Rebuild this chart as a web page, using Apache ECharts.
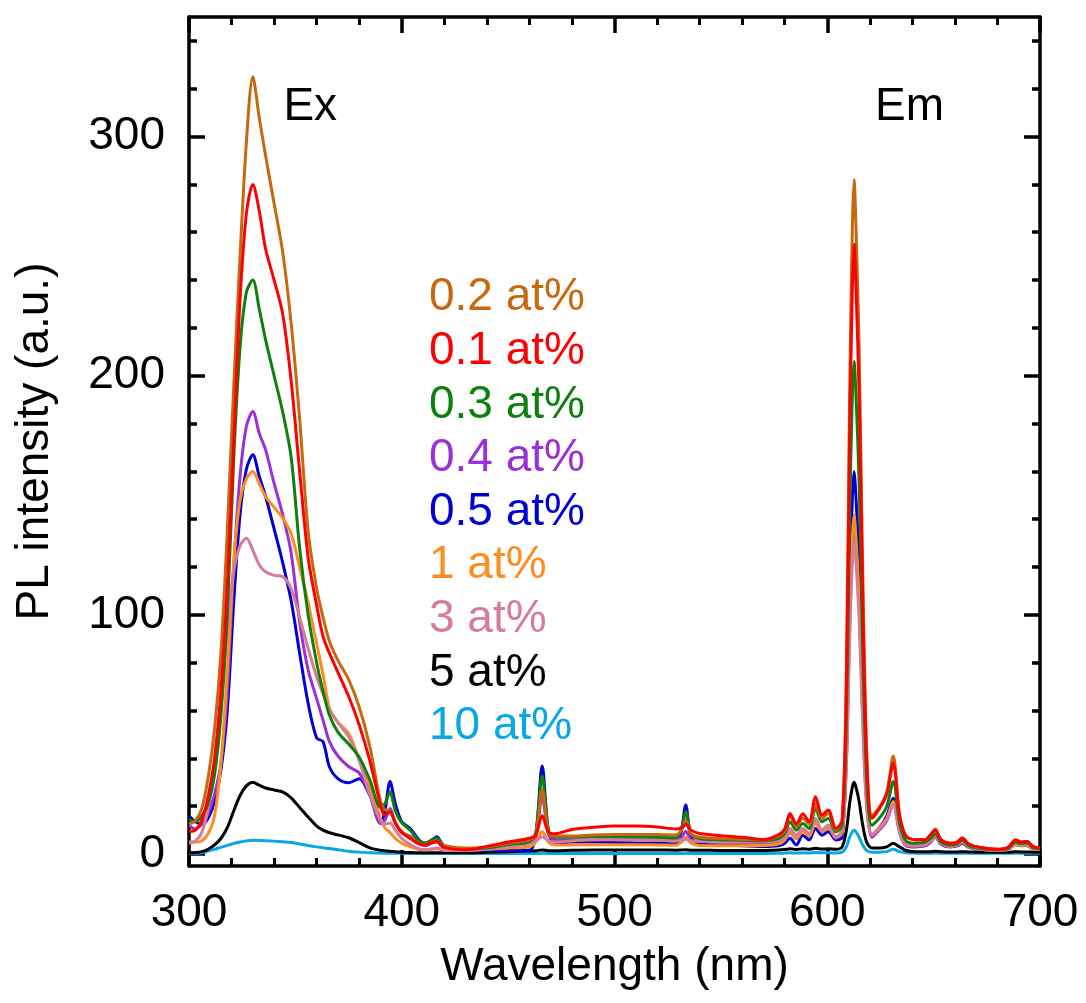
<!DOCTYPE html>
<html>
<head>
<meta charset="utf-8">
<script src="https://cdn.jsdelivr.net/npm/echarts@6/dist/echarts.min.js"></script>
<style>
  html, body { margin: 0; padding: 0; background: #fff; }
  #chart { width: 1086px; height: 1003px; }
</style>
</head>
<body>
<div id="chart"></div>
<script>
// Shared wavelength grid (nm); denser around the sharp Eu3+ lines.
const wavelength = [
  300, 303, 306, 309, 312, 315, 318, 321, 324, 327,
  330, 333, 336, 340, 344, 348, 352, 356, 360, 363,
  366, 370, 375, 380, 385, 390, 392, 394.5, 397, 400,
  404, 408, 411, 414, 416.5, 420, 430, 440, 450, 460,
  463, 466, 469, 472, 480, 490, 500, 510, 520, 529,
  531.5, 533.5, 536, 540, 550, 560, 570, 577, 580, 582.5,
  585.5, 588.5, 591.5, 594.5, 597.5, 600.5, 604, 607, 609, 610.5,
  611.8, 612.6, 613.5, 615, 616.5, 618.5, 621, 624.5, 628, 631,
  634, 637, 641, 646, 648.5, 650.8, 653.5, 658, 661, 663.5,
  666.5, 672, 680, 685, 688.5, 691, 693.8, 697, 700
];

// PL intensity (a.u.) for each doping level, one value per wavelength.
const pl_0_2 = [
  12.5, 14, 19, 32, 52, 84, 135, 195, 250, 298,
  325, 308, 292, 272, 252, 222, 182, 135, 111, 99,
  89, 81, 73, 61.5, 45, 22, 18.5, 18, 13, 9.5,
  7, 4.5, 4, 5, 5.5, 3.5, 2.5, 3, 4.5, 6,
  8, 27, 9, 7.5, 7.5, 8, 8.2, 8.2, 8.2, 8,
  10, 14, 8.5, 7, 6.5, 6.2, 5.8, 7.5, 9.5, 16,
  11.5, 15, 12.5, 21, 15, 17, 10, 14, 78, 192,
  262, 282, 262, 212, 128, 45, 16, 19.5, 26, 41,
  16.5, 7.5, 6, 6, 8, 10.5, 6, 4.5, 5, 6.8,
  4.2, 2.7, 2, 2.8, 6, 5, 5.3, 3, 2.7
];
const pl_0_1 = [
  9.5, 10, 14, 24, 40, 68, 112, 172, 232, 268,
  280, 269, 253, 240, 226, 198, 160, 124, 104, 91,
  84, 76, 66, 54, 39, 20.5, 16.3, 17.7, 13, 9,
  6.5, 4.2, 3.8, 4.8, 5.2, 2.8, 1.8, 3.2, 5, 6.6,
  8, 16, 9, 8.5, 10.3, 11.2, 11.7, 11.7, 11.3, 10.5,
  11, 12.5, 10, 8.6, 7.7, 7, 6, 8, 10.5, 17,
  12.6, 16.8, 13.5, 24, 16.3, 18.4, 10.7, 14, 70, 173,
  237, 255, 237, 191, 115, 40, 15, 19, 25, 38,
  16, 7.5, 6, 6, 8, 10, 6, 4.5, 5, 6.6,
  4.2, 2.7, 2, 2.8, 5.9, 5, 5.2, 3, 2.7
];
const pl_0_3 = [
  14.5, 13.5, 16, 21, 33, 58, 100, 165, 212, 235,
  240, 228, 215, 200, 185, 166, 128, 100, 80, 68,
  58, 51, 46, 40.5, 31, 19.5, 21, 26, 18, 13,
  10, 5.5, 4.5, 5.8, 6.6, 3.5, 2.2, 2.5, 4, 5.2,
  9, 32.6, 10, 7, 7, 7.3, 7.3, 7.2, 7, 6.8,
  10.5, 17.7, 8.5, 6.5, 6, 5.8, 5.5, 6.5, 8.5, 13.5,
  10, 12.8, 10.7, 19.1, 13.5, 14.9, 9.3, 12, 57, 140,
  192, 206, 192, 155, 93, 32, 12, 15, 20, 30.3,
  13, 5.5, 4.5, 5, 6.5, 8.5, 5, 3.8, 4.3, 5.8,
  3.5, 2.3, 1.8, 2.4, 5, 4.4, 4.6, 2.6, 2.3
];
const pl_0_4 = [
  12, 10.5, 12.5, 17, 25, 38, 68, 120, 158, 179,
  185, 176, 169, 155, 142, 126, 97, 77, 65, 56,
  47, 41, 36.6, 33.9, 25, 13, 14, 19, 13, 9,
  7.5, 4.5, 3.5, 4.5, 5, 2.5, 2, 2.2, 3.5, 4.5,
  7.5, 24, 8, 6, 5.8, 5.9, 6, 6, 5.9, 5.7,
  7, 9.5, 6, 5.4, 5, 4.8, 4.5, 4.8, 6, 9,
  6.5, 10, 7.5, 14, 9.5, 11, 6.5, 9, 39, 94,
  128, 138, 128, 104, 62, 22, 7, 10, 14, 21,
  9, 3.5, 3, 3.5, 5, 7, 4, 3, 3.5, 4.8,
  3, 2, 1.6, 2, 4, 3.6, 3.7, 2, 2
];
const pl_0_5 = [
  16, 13.5, 12.5, 15, 22, 35, 60, 105, 142, 161,
  167, 158, 149.5, 136, 122, 106, 84, 63, 48.5, 47,
  36.5, 31.5, 29.8, 31.5, 24.5, 12.8, 17.7, 30.3, 21, 13.5,
  10.7, 6, 4.5, 5.8, 7.2, 3.2, 2, 1.6, 1.5, 1.6,
  8, 36.8, 9, 4.5, 5, 5, 4.8, 4.6, 4.5, 4.3,
  10, 20.5, 7, 4.2, 3.8, 3.5, 3.2, 3.5, 4.5, 6.6,
  3.8, 7.9, 5.9, 10.7, 7.9, 9.3, 5.9, 7, 45, 109,
  149, 160, 149, 120, 72, 24, 8, 11, 16, 23.3,
  10, 4, 3, 3.5, 5, 7.5, 4.3, 3, 3.4, 4.5,
  2.8, 1.8, 1.4, 2, 4, 3.5, 3.6, 2, 1.9
];
const pl_1 = [
  5, 5, 5.5, 8.5, 16, 38, 76, 122, 148, 157,
  160, 155, 149.5, 145, 140.5, 134, 120, 105, 88, 75,
  61, 55, 50.5, 39.5, 28, 15, 11, 9, 6.5, 4.5,
  3, 2, 1.8, 2, 2.2, 1.8, 1.8, 2, 2.5, 3,
  5, 9.3, 5, 3.8, 3.8, 3.9, 3.9, 3.9, 3.8, 3.7,
  5, 7, 4.5, 3.6, 3.5, 3.5, 3.6, 4.2, 5.8, 9.5,
  6.5, 9.5, 7.5, 13, 9.5, 11, 7, 9, 40, 97,
  132, 142, 132, 107, 64, 22, 8, 11, 15, 22,
  10, 4, 3.5, 4, 5.5, 7.5, 4.5, 3.3, 3.8, 5,
  3, 2, 1.6, 2, 4, 3.6, 3.7, 2, 2
];
const pl_3 = [
  4.5, 5.5, 9, 19, 38, 62, 95, 118, 129, 132,
  127, 121, 118, 116.5, 116, 111, 99, 86, 74, 67,
  60.5, 55, 49, 39, 25, 14, 12.5, 13, 10, 6.5,
  4, 2.2, 1.8, 2.2, 2.5, 1.5, 1.5, 2, 3, 4.5,
  5.5, 7.2, 5.5, 5, 5.5, 6, 6, 6, 5.8, 5.5,
  5.8, 6.2, 5.5, 5.2, 5, 5, 5, 5.5, 6.8, 10.7,
  7.9, 10.7, 8.6, 14.9, 10, 12.1, 7.2, 10, 37, 89,
  122, 131, 122, 98, 59, 20, 8, 10.5, 14.5, 20.5,
  9.5, 4, 3.5, 4, 5.5, 7.5, 4.5, 3.3, 3.8, 5.3,
  3, 2, 1.6, 2, 4.5, 4, 4, 2.2, 2
];
const pl_5 = [
  0.5, 0.6, 1, 2, 3.8, 6.5, 11, 18, 24.5, 28.5,
  30, 28.8, 27.6, 26.8, 26, 23.5, 19.5, 15.5, 11.7, 10,
  8.9, 8, 6.8, 4.8, 2.6, 1.6, 1.4, 1.2, 1, 0.8,
  0.6, 0.5, 0.5, 0.5, 0.5, 0.5, 0.5, 0.7, 1, 1.3,
  1.4, 1.7, 1.4, 1.4, 1.6, 1.7, 1.7, 1.7, 1.7, 1.6,
  1.7, 1.8, 1.6, 1.6, 1.5, 1.5, 1.5, 1.7, 1.9, 2.2,
  1.9, 2.2, 2, 2.4, 2.1, 2.2, 2, 3, 10, 21,
  28, 30, 28, 22, 13, 5, 2.5, 2.5, 3, 4.5,
  3, 1.5, 1, 1, 1, 1.2, 1, 0.9, 0.9, 1,
  0.9, 0.8, 0.8, 0.8, 1, 0.9, 0.9, 0.8, 0.8
];
const pl_10 = [
  0.2, 0.3, 0.5, 1.2, 2, 2.8, 3.6, 4.4, 5, 5.5,
  5.8, 5.7, 5.6, 5.4, 5.1, 4.8, 4.2, 3.6, 3, 2.6,
  2.3, 1.8, 1.2, 0.8, 0.5, 0.4, 0.3, 0.3, 0.3, 0.3,
  0.2, 0.2, 0.2, 0.2, 0.2, 0.2, 0.2, 0.2, 0.2, 0.2,
  0.2, 0.3, 0.2, 0.2, 0.2, 0.2, 0.2, 0.2, 0.2, 0.2,
  0.2, 0.3, 0.2, 0.2, 0.2, 0.2, 0.2, 0.3, 0.4, 0.5,
  0.4, 0.5, 0.4, 0.6, 0.5, 0.5, 0.4, 0.8, 3, 7,
  9.3, 10, 9.3, 7, 4, 1.5, 0.7, 0.8, 1, 2,
  1, 0.5, 0.4, 0.3, 0.3, 0.4, 0.3, 0.3, 0.3, 0.3,
  0.3, 0.3, 0.3, 0.3, 0.4, 0.3, 0.3, 0.3, 0.3
];

// Legend entries (top to bottom) and their colours.
const legendNames = ['0.2 at%', '0.1 at%', '0.3 at%', '0.4 at%', '0.5 at%', '1 at%', '3 at%', '5 at%', '10 at%'];
const legendColors = ['#c8680e', '#ff0000', '#0e800e', '#9b30d8', '#0000d2', '#ff8c1e', '#d77c96', '#000000', '#08a8e6'];
const legendSeries = [pl_0_2, pl_0_1, pl_0_3, pl_0_4, pl_0_5, pl_1, pl_3, pl_5, pl_10];

// Drawing order, back to front.
const drawOrder = ['10 at%', '5 at%', '0.5 at%', '0.4 at%', '1 at%', '3 at%', '0.3 at%', '0.2 at%', '0.1 at%'];

// Band labels: excitation and emission.
const bandLabels = ['Ex', 'Em'];
const bandLabelPos = [[357, 312.4], [638.7, 312.4]];

// Axis ticks.
const xRange = [300, 700];
const yRange = [-5, 350];
const yMajorTicks = [0, 100, 200, 300];
const yMinorTicks = [20, 40, 60, 80, 120, 140, 160, 180, 220, 240, 260, 280, 320, 340];

const FONT = '"Liberation Sans", Arial, Helvetica, sans-serif';
const BLACK = '#000';
const LINE_W = 3.5;

function xAxisDef(pos, withText) {
  return {
    type: 'value',
    position: pos,
    min: xRange[0],
    max: xRange[1],
    interval: 100,
    axisLine: { show: true, onZero: false, lineStyle: { color: BLACK, width: LINE_W } },
    axisTick: { show: true, inside: true, length: 16, lineStyle: { color: BLACK, width: LINE_W } },
    minorTick: { show: true, splitNumber: 5, length: 8, lineStyle: { color: BLACK, width: 3 } },
    splitLine: { show: false },
    minorSplitLine: { show: false },
    axisLabel: { show: withText, color: BLACK, fontSize: 46, fontFamily: FONT, margin: 24 },
    name: withText ? 'Wavelength (nm)' : '',
    nameLocation: 'middle',
    nameGap: 78,
    nameTextStyle: { color: BLACK, fontSize: 46, fontFamily: FONT }
  };
}

function yAxisDef(pos, ticks, tickLen, withLine, withText) {
  return {
    type: 'value',
    position: pos,
    min: yRange[0],
    max: yRange[1],
    axisLine: { show: withLine, onZero: false, lineStyle: { color: BLACK, width: LINE_W } },
    axisTick: { show: true, inside: true, length: tickLen, customValues: ticks,
                lineStyle: { color: BLACK, width: LINE_W } },
    splitLine: { show: false },
    axisLabel: withText
      ? { show: true, customValues: ticks, color: BLACK, fontSize: 46, fontFamily: FONT, margin: 24 }
      : { show: false },
    name: withText ? 'PL intensity (a.u.)' : '',
    nameLocation: 'middle',
    nameGap: 131,
    nameTextStyle: { color: BLACK, fontSize: 46, fontFamily: FONT }
  };
}

const lineSeries = drawOrder.map(name => {
  const i = legendNames.indexOf(name);
  const values = legendSeries[i];
  return {
    name: name,
    type: 'line',
    xAxisIndex: 0,
    yAxisIndex: 0,
    data: wavelength.map((w, k) => [w, values[k]]),
    showSymbol: false,
    symbol: 'none',
    smooth: 0.3,
    lineStyle: { color: legendColors[i], width: 3 },
    itemStyle: { color: legendColors[i] },
    emphasis: { disabled: true },
    z: 2
  };
});

const bandSeries = {
  name: 'bands',
  type: 'scatter',
  xAxisIndex: 0,
  yAxisIndex: 0,
  symbolSize: 1,
  itemStyle: { color: 'rgba(0,0,0,0)', opacity: 1 },
  data: bandLabels.map((t, i) => ({ name: t, value: bandLabelPos[i] })),
  label: {
    show: true,
    position: 'inside',
    formatter: '{b}',
    color: BLACK,
    opacity: 1,
    fontSize: 46,
    fontFamily: FONT
  },
  emphasis: { disabled: true },
  silent: true,
  z: 3
};

const chart = echarts.init(document.getElementById('chart'), null, { renderer: 'canvas' });
chart.setOption({
  animation: false,
  backgroundColor: '#fff',
  grid: { left: 189, top: 17, right: 46, bottom: 137, containLabel: false },
  xAxis: [xAxisDef('bottom', true), xAxisDef('top', false)],
  yAxis: [
    yAxisDef('left', yMajorTicks, 16, true, true),
    yAxisDef('left', yMinorTicks, 8, false, false),
    yAxisDef('right', yMajorTicks, 16, true, false),
    yAxisDef('right', yMinorTicks, 8, false, false)
  ],
  legend: {
    orient: 'vertical',
    left: 418,
    top: 266,
    itemWidth: 0,
    itemHeight: 0,
    itemGap: 0,
    selectedMode: false,
    itemStyle: { opacity: 0 },
    lineStyle: { opacity: 0 },
    data: legendNames.map((n, i) => ({ name: n, textStyle: { color: legendColors[i] } })),
    textStyle: { fontSize: 46, lineHeight: 53.6, fontFamily: FONT }
  },
  series: lineSeries.concat([bandSeries])
});
</script>
</body>
</html>
